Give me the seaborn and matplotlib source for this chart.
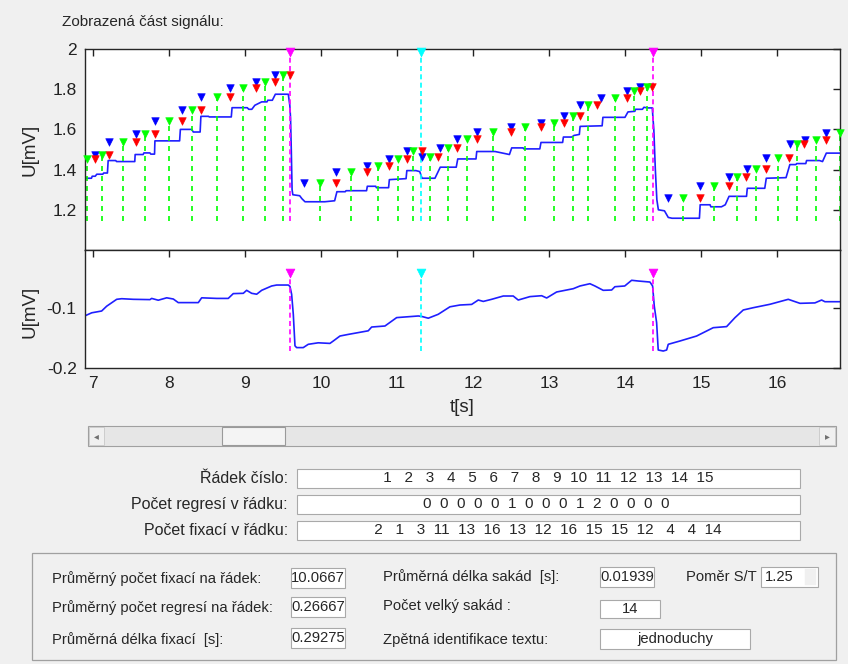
import numpy as np
import pandas as pd
import matplotlib
matplotlib.use('Agg')
import matplotlib.pyplot as plt
import seaborn as sns
from matplotlib.patches import Rectangle

# ---- data ----
# top plot: signal U[mV] vs t[s]
top_t = [6.895, 6.98, 6.99, 7.03, 7.05, 7.13, 7.14, 7.19, 7.20, 7.30,
         7.31, 7.55, 7.555, 7.66, 7.67, 7.75, 7.76, 7.81, 7.815, 8.14,
         8.15, 8.30, 8.32, 8.41, 8.42, 8.52, 8.53, 8.82, 8.83, 9.03,
         9.05, 9.09, 9.13, 9.22, 9.29, 9.30, 9.36, 9.40, 9.57, 9.59,
         9.60, 9.61, 9.62, 9.63, 9.72, 9.75, 9.79, 10.05, 10.18, 10.21,
         10.32, 10.33, 10.60, 10.61, 10.72, 10.73, 10.89, 10.90, 11.12, 11.13,
         11.25, 11.30, 11.33, 11.50, 11.57, 11.78, 11.80, 12.04, 12.05, 12.29,
         12.38, 12.48, 12.51, 12.66, 12.67, 12.88, 12.895, 13.18, 13.19, 13.30,
         13.33, 13.40, 13.41, 13.70, 13.71, 14.00, 14.04, 14.13, 14.14, 14.23,
         14.25, 14.30, 14.36, 14.37, 14.38, 14.40, 14.42, 14.44, 14.52, 14.57,
         14.62, 14.98, 14.99, 15.12, 15.13, 15.27, 15.32, 15.37, 15.60, 15.61,
         15.84, 15.86, 16.12, 16.17, 16.25, 16.26, 16.38, 16.39, 16.56, 16.60,
         16.65, 16.83]
top_u = [1.357, 1.357, 1.367, 1.367, 1.377, 1.377, 1.383, 1.383, 1.445, 1.445,
         1.440, 1.440, 1.475, 1.475, 1.483, 1.483, 1.477, 1.477, 1.543, 1.543,
         1.600, 1.600, 1.587, 1.587, 1.665, 1.665, 1.662, 1.662, 1.708, 1.708,
         1.700, 1.700, 1.720, 1.737, 1.737, 1.745, 1.745, 1.775, 1.775, 1.720,
         1.655, 1.490, 1.300, 1.275, 1.270, 1.255, 1.240, 1.240, 1.245, 1.290,
         1.290, 1.295, 1.295, 1.317, 1.317, 1.310, 1.310, 1.350, 1.355, 1.395,
         1.395, 1.390, 1.357, 1.357, 1.412, 1.412, 1.453, 1.453, 1.490, 1.490,
         1.483, 1.475, 1.508, 1.508, 1.503, 1.503, 1.535, 1.535, 1.562, 1.562,
         1.570, 1.575, 1.615, 1.618, 1.660, 1.660, 1.687, 1.690, 1.700, 1.700,
         1.710, 1.707, 1.707, 1.650, 1.600, 1.400, 1.250, 1.200, 1.195, 1.162,
         1.158, 1.158, 1.225, 1.225, 1.215, 1.215, 1.225, 1.267, 1.267, 1.307,
         1.307, 1.357, 1.360, 1.425, 1.425, 1.430, 1.430, 1.445, 1.445, 1.440,
         1.482, 1.482]

# fixation markers (blue / red / green triangles)
blue_t = [7.026, 7.21, 7.56, 7.816, 8.167, 8.42, 8.80, 9.14, 9.40, 9.78,
          10.197, 10.61, 10.90, 11.13, 11.325, 11.56, 11.785, 12.05, 12.50, 12.89,
          13.20, 13.41, 13.69, 14.03, 14.20, 14.57, 14.99, 15.37, 15.61, 15.86,
          16.17, 16.37, 16.64]
blue_u = [1.475, 1.537, 1.578, 1.642, 1.698, 1.760, 1.808, 1.837, 1.873, 1.333,
          1.390, 1.420, 1.453, 1.495, 1.462, 1.508, 1.553, 1.587, 1.610, 1.632,
          1.665, 1.720, 1.757, 1.790, 1.812, 1.258, 1.320, 1.362, 1.403, 1.458,
          1.528, 1.545, 1.583]
red_t = [7.026, 7.21, 7.56, 7.816, 8.167, 8.42, 8.80, 9.14, 9.40, 9.59,
         10.197, 10.61, 10.90, 11.13, 11.325, 11.54, 11.785, 12.05, 12.50, 12.89,
         13.20, 13.41, 13.63, 14.03, 14.20, 14.36, 14.99, 15.37, 15.59, 15.85,
         16.16, 16.36, 16.64]
red_u = [1.453, 1.475, 1.537, 1.578, 1.642, 1.698, 1.760, 1.808, 1.837, 1.873,
         1.333, 1.390, 1.420, 1.453, 1.495, 1.462, 1.508, 1.553, 1.587, 1.610,
         1.632, 1.665, 1.720, 1.757, 1.790, 1.812, 1.258, 1.320, 1.362, 1.403,
         1.458, 1.528, 1.545]
green_t = [6.917, 7.114, 7.39, 7.684, 8.00, 8.30, 8.63, 8.98, 9.26, 9.50,
           9.987, 10.40, 10.75, 11.02, 11.21, 11.43, 11.675, 11.917, 12.27, 12.68,
           13.06, 13.31, 13.52, 13.87, 14.12, 14.29, 14.76, 15.17, 15.48, 15.73,
           16.01, 16.27, 16.51, 16.83]
green_u = [1.453, 1.475, 1.537, 1.578, 1.642, 1.698, 1.760, 1.808, 1.837, 1.873,
           1.333, 1.390, 1.420, 1.453, 1.495, 1.462, 1.508, 1.553, 1.587, 1.610,
           1.632, 1.665, 1.720, 1.757, 1.790, 1.812, 1.258, 1.320, 1.362, 1.403,
           1.458, 1.528, 1.545, 1.583]

# big saccades (magenta) and text identification (cyan)
magenta_t = [9.59, 14.37]
cyan_t = [11.32]

# bottom plot: signal
bot_t = [6.895, 6.983, 7.114, 7.180, 7.312, 7.378, 7.530, 7.750, 7.772, 7.859,
         7.970, 8.057, 8.122, 8.386, 8.430, 8.628, 8.780, 8.846, 8.978, 9.022,
         9.088, 9.154, 9.220, 9.351, 9.417, 9.570, 9.592, 9.614, 9.636, 9.658,
         9.680, 9.767, 9.833, 9.964, 10.118, 10.162, 10.250, 10.359, 10.622, 10.667,
         10.842, 10.996, 11.280, 11.325, 11.412, 11.543, 11.697, 11.829, 11.983, 12.070,
         12.136, 12.246, 12.399, 12.530, 12.596, 12.750, 12.904, 12.970, 13.101, 13.320,
         13.408, 13.539, 13.605, 13.714, 13.825, 13.868, 13.997, 14.088, 14.175, 14.329,
         14.364, 14.386, 14.417, 14.438, 14.504, 14.549, 14.570, 14.724, 14.943, 15.162,
         15.338, 15.447, 15.557, 15.688, 15.908, 16.149, 16.303, 16.500, 16.588, 16.632,
         16.829]
bot_u = [-0.113, -0.108, -0.105, -0.097, -0.0855, -0.0845, -0.0855, -0.086, -0.084, -0.087,
         -0.083, -0.085, -0.091, -0.091, -0.083, -0.084, -0.084, -0.076, -0.0755, -0.0705,
         -0.0755, -0.077, -0.0705, -0.0633, -0.0617, -0.0617, -0.064, -0.077, -0.1105, -0.163,
         -0.166, -0.166, -0.1605, -0.158, -0.159, -0.155, -0.1467, -0.144, -0.138, -0.1317,
         -0.130, -0.116, -0.1133, -0.114, -0.117, -0.1105, -0.098, -0.095, -0.094, -0.0867,
         -0.089, -0.0855, -0.080, -0.080, -0.0867, -0.081, -0.0795, -0.0833, -0.0733, -0.0678,
         -0.0633, -0.0595, -0.0633, -0.0705, -0.070, -0.0645, -0.0633, -0.0538, -0.055, -0.0567,
         -0.0633, -0.0967, -0.1245, -0.170, -0.1717, -0.170, -0.1605, -0.155, -0.1467, -0.1328,
         -0.131, -0.1162, -0.1033, -0.0995, -0.0938, -0.0855, -0.0922, -0.0915, -0.0867, -0.0895,
         -0.0895]

x_ticks = [7, 8, 9, 10, 11, 12, 13, 14, 15, 16]
top_yticks = [1.2, 1.4, 1.6, 1.8, 2.0]
bot_yticks = [-0.2, -0.1]

# table rows
row_numbers = list(range(1, 16))
row_regressions = [0, 0, 0, 0, 0, 1, 0, 0, 0, 1, 2, 0, 0, 0, 0]
row_fixations = [2, 1, 3, 11, 13, 16, 13, 12, 16, 15, 15, 12, 4, 4, 14]

# summary values
mean_fix_per_row = '10.0667'
mean_reg_per_row = '0.26667'
mean_fix_len = '0.29275'
mean_sacc_len = '0.01939'
ratio_st = '1.25'
n_big_sacc = '14'
text_ident = 'jednoduchy'

# ---- figure ----
W, H = 848, 664
sns.set_style('white')
plt.rcParams['font.family'] = ['Liberation Sans Narrow', 'Liberation Sans', 'DejaVu Sans']

BG = '#f0f0f0'
fig = plt.figure(figsize=(W / 100, H / 100), dpi=100, facecolor=BG)


def fx(x):
    return x / W


def fy(y):
    return 1 - y / H


def box(x0, y0, x1, y1, fc='white', ec='#a9a9a9', lw=0.8):
    fig.add_artist(Rectangle((fx(x0), fy(y1)), fx(x1) - fx(x0), fy(y0) - fy(y1),
                             transform=fig.transFigure, facecolor=fc, edgecolor=ec, lw=lw))


ax1 = fig.add_axes([fx(85), fy(250), fx(840) - fx(85), fy(49) - fy(250)])
ax2 = fig.add_axes([fx(85), fy(368), fx(840) - fx(85), fy(250) - fy(368)])

line_blue = '#1f1fff'
tick_font = 12.5

# top axes
sns.lineplot(x=top_t, y=top_u, ax=ax1, color=line_blue, lw=1.2, sort=False, estimator=None)
ax1.vlines(green_t, 1.145, green_u, colors='#00ff00', linestyles=(0, (3, 3)), lw=1.2)
ax1.vlines(magenta_t, 1.145, 1.985, colors='#ff00ff', linestyles=(0, (3, 2)), lw=1.2)
ax1.vlines(cyan_t, 1.145, 1.985, colors='#00ffff', linestyles=(0, (3, 2)), lw=1.2)
for tt, uu, col in [(blue_t, blue_u, '#0000ff'), (red_t, red_u, '#ff0000'),
                    (green_t, green_u, '#00ff00')]:
    sns.scatterplot(x=tt, y=uu, ax=ax1, marker='v', s=30, color=col,
                    edgecolor=col, linewidth=0.4, clip_on=False, zorder=4)
sns.scatterplot(x=magenta_t, y=[1.985] * len(magenta_t), ax=ax1, marker='v', s=40,
                color='#ff00ff', edgecolor='#ff00ff', clip_on=False, zorder=5)
sns.scatterplot(x=cyan_t, y=[1.985] * len(cyan_t), ax=ax1, marker='v', s=40,
                color='#00ffff', edgecolor='#00ffff', clip_on=False, zorder=5)
ax1.set_ylim(1.0, 2.0)
ax1.set_yticks(top_yticks)
ax1.set_yticklabels(['1.2', '1.4', '1.6', '1.8', '2'])

# bottom axes
sns.lineplot(x=bot_t, y=bot_u, ax=ax2, color=line_blue, lw=1.2, sort=False, estimator=None)
ax2.vlines(magenta_t, -0.172, -0.041, colors='#ff00ff', linestyles=(0, (3, 2)), lw=1.2)
ax2.vlines(cyan_t, -0.172, -0.041, colors='#00ffff', linestyles=(0, (3, 2)), lw=1.2)
sns.scatterplot(x=magenta_t, y=[-0.041] * len(magenta_t), ax=ax2, marker='v', s=40,
                color='#ff00ff', edgecolor='#ff00ff', zorder=5)
sns.scatterplot(x=cyan_t, y=[-0.041] * len(cyan_t), ax=ax2, marker='v', s=40,
                color='#00ffff', edgecolor='#00ffff', zorder=5)
ax2.set_ylim(-0.2, -0.0033)
ax2.set_yticks(bot_yticks)
ax2.set_yticklabels(['-0.2', '-0.1'])

for ax in (ax1, ax2):
    ax.set_xlim(6.895, 16.83)
    ax.set_xticks(x_ticks)
    ax.set_facecolor('white')
    ax.set_xlabel('')
    ax.set_ylabel('')
    ax.tick_params(direction='in', length=5, width=1, top=True, right=True,
                   labelsize=tick_font, pad=6, colors='#222222')
    for sp in ax.spines.values():
        sp.set_color('#262626')
        sp.set_linewidth(1.0)
ax1.tick_params(labelbottom=False)
ax2.set_xticklabels([str(v) for v in x_ticks])

fig.text(fx(62), fy(22), 'Zobrazená část signálu:', fontsize=11, va='center', ha='left')
fig.text(fx(30), fy(150), 'U[mV]', fontsize=13.5, rotation=90, va='center', ha='center')
fig.text(fx(30), fy(312), 'U[mV]', fontsize=13.5, rotation=90, va='center', ha='center')
fig.text(fx(462), fy(408), 't[s]', fontsize=13.5, va='center', ha='center')

# scrollbar
box(88, 426, 836, 446, fc='#e6e6e6', ec='#a0a0a0', lw=0.8)
box(89, 427, 104, 445, fc='#f0f0f0', ec='#c8c8c8', lw=0.6)
box(819, 427, 835, 445, fc='#f0f0f0', ec='#c8c8c8', lw=0.6)
box(222, 427, 285, 445, fc='#f4f4f4', ec='#9a9a9a', lw=0.8)
fig.text(fx(96.5), fy(436), '◂', fontsize=7, color='#707070', ha='center', va='center',
         family=['DejaVu Sans'])
fig.text(fx(827), fy(436), '▸', fontsize=7, color='#707070', ha='center', va='center',
         family=['DejaVu Sans'])


def num2str(vals):
    w = max(len(str(v)) for v in vals)
    return '  '.join(f'{v:>{w}}' for v in vals)


rows = [('Řádek číslo:', num2str(row_numbers), 469),
        ('Počet regresí v řádku:', num2str(row_regressions), 495),
        ('Počet fixací v řádku:', num2str(row_fixations), 521)]
for label, val, y0 in rows:
    fig.text(fx(288), fy(y0 + 9.5), label, fontsize=11.5, ha='right', va='center')
    box(297, y0, 800, y0 + 19)
    fig.text(fx(546), fy(y0 + 9.5), val, fontsize=11, ha='center', va='center')

# summary panel
box(32, 553, 836, 660, fc=BG, ec='#a0a0a0', lw=0.9)
panel_labels = [('Průměrný počet fixací na řádek:', 52, 579),
                ('Průměrný počet regresí na řádek:', 52, 608),
                ('Průměrná délka fixací  [s]:', 52, 640),
                ('Průměrná délka sakád  [s]:', 383, 577),
                ('Poměr S/T', 686, 577),
                ('Počet velký sakád :', 383, 606),
                ('Zpětná identifikace textu:', 383, 640)]
for label, x, y in panel_labels:
    fig.text(fx(x), fy(y), label, fontsize=10.6, ha='left', va='center')

panel_boxes = [(mean_fix_per_row, 291, 568, 345, 588, 'center'),
               (mean_reg_per_row, 291, 597, 345, 617, 'center'),
               (mean_fix_len, 291, 628, 345, 648, 'center'),
               (mean_sacc_len, 600, 567, 654, 587, 'center'),
               (ratio_st, 761, 567, 818, 587, 'left'),
               (n_big_sacc, 600, 600, 660, 618, 'center'),
               (text_ident, 600, 629, 750, 649, 'center')]
for val, x0, y0, x1, y1, ha in panel_boxes:
    box(x0, y0, x1, y1)
    xt = (x0 + x1) / 2 if ha == 'center' else x0 + 4
    fig.text(fx(xt), fy((y0 + y1) / 2), val, fontsize=10.6, ha=ha, va='center')
box(805, 569, 816, 585, fc='#f0f0f0', ec='#f0f0f0', lw=0.3)

fig.savefig('out.png', dpi=100, facecolor=BG)
